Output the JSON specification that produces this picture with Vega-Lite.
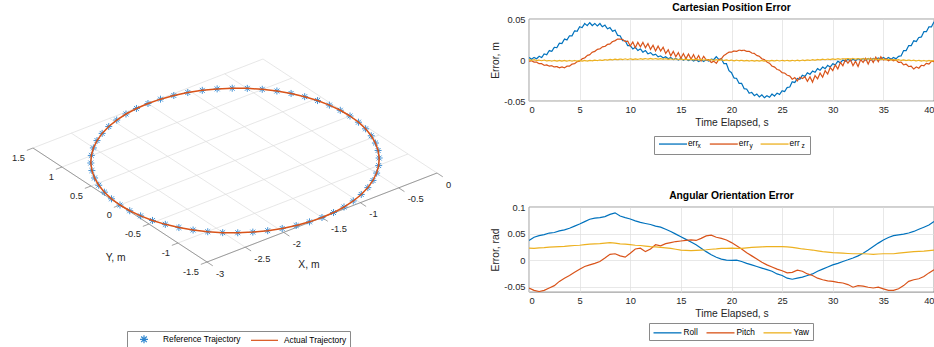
{
 "$schema": "https://vega.github.io/schema/vega-lite/v6.json",
 "background": "white",
 "padding": {"left": 0, "top": 2, "right": 0, "bottom": 0},
 "spacing": 59,
 "bounds": "flush",
 "resolve": {"scale": {"x": "independent", "y": "independent", "color": "independent", "strokeDash": "independent", "shape": "independent"}, "legend": {"color": "independent", "strokeDash": "independent", "shape": "independent"}},
 "config": {
  "font": "Liberation Sans",
  "view": {"stroke": "#3a3a3a", "strokeWidth": 0.6},
  "axis": {"labelFont": "Liberation Sans", "labelFontSize": 9.3, "labelColor": "#262626", "titleFont": "Liberation Sans", "titleFontSize": 10.3, "titleFontWeight": "normal", "titleColor": "#262626", "ticks": false, "domain": false, "gridColor": "#DEDEDE", "gridWidth": 0.7, "labelPadding": 4, "titlePadding": 3},
  "title": {"font": "Liberation Sans", "fontSize": 10.3, "fontWeight": "bold", "color": "#000000", "offset": 2},
  "legend": {"labelFont": "Liberation Sans", "labelFontSize": 8.3, "labelColor": "#000000", "padding": 4, "symbolStrokeWidth": 1.3, "columnPadding": 8, "labelOffset": 2}
 },
 "datasets": {
  "ticks": [{"a":"X","v":-3},{"a":"X","v":-2.5},{"a":"X","v":-2},{"a":"X","v":-1.5},{"a":"X","v":-1},{"a":"X","v":-0.5},{"a":"X","v":0},{"a":"Y","v":-1.5},{"a":"Y","v":-1},{"a":"Y","v":-0.5},{"a":"Y","v":0},{"a":"Y","v":0.5},{"a":"Y","v":1},{"a":"Y","v":1.5}],
  "titles": [{"t":"X, m","X":-2.2,"Y":-2.2},{"t":"Y, m","X":-3.7,"Y":-0.85}],
  "traj": [
   {"i":0,"X":0,"Y":0},{"i":1,"X":-0.0082,"Y":0.1568},{"i":2,"X":-0.0328,"Y":0.3119},{"i":3,"X":-0.0734,"Y":0.4635},{"i":4,"X":-0.1297,"Y":0.6101},{"i":5,"X":-0.201,"Y":0.75},{"i":6,"X":-0.2865,"Y":0.8817},{"i":7,"X":-0.3853,"Y":1.0037},{"i":8,"X":-0.4963,"Y":1.1147},{"i":9,"X":-0.6183,"Y":1.2135},
   {"i":10,"X":-0.75,"Y":1.299},{"i":11,"X":-0.8899,"Y":1.3703},{"i":12,"X":-1.0365,"Y":1.4266},{"i":13,"X":-1.1881,"Y":1.4672},{"i":14,"X":-1.3432,"Y":1.4918},{"i":15,"X":-1.5,"Y":1.5},{"i":16,"X":-1.6568,"Y":1.4918},{"i":17,"X":-1.8119,"Y":1.4672},{"i":18,"X":-1.9635,"Y":1.4266},{"i":19,"X":-2.1101,"Y":1.3703},
   {"i":20,"X":-2.25,"Y":1.299},{"i":21,"X":-2.3817,"Y":1.2135},{"i":22,"X":-2.5037,"Y":1.1147},{"i":23,"X":-2.6147,"Y":1.0037},{"i":24,"X":-2.7135,"Y":0.8817},{"i":25,"X":-2.799,"Y":0.75},{"i":26,"X":-2.8703,"Y":0.6101},{"i":27,"X":-2.9266,"Y":0.4635},{"i":28,"X":-2.9672,"Y":0.3119},{"i":29,"X":-2.9918,"Y":0.1568},
   {"i":30,"X":-3,"Y":0},{"i":31,"X":-2.9918,"Y":-0.1568},{"i":32,"X":-2.9672,"Y":-0.3119},{"i":33,"X":-2.9266,"Y":-0.4635},{"i":34,"X":-2.8703,"Y":-0.6101},{"i":35,"X":-2.799,"Y":-0.75},{"i":36,"X":-2.7135,"Y":-0.8817},{"i":37,"X":-2.6147,"Y":-1.0037},{"i":38,"X":-2.5037,"Y":-1.1147},{"i":39,"X":-2.3817,"Y":-1.2135},
   {"i":40,"X":-2.25,"Y":-1.299},{"i":41,"X":-2.1101,"Y":-1.3703},{"i":42,"X":-1.9635,"Y":-1.4266},{"i":43,"X":-1.8119,"Y":-1.4672},{"i":44,"X":-1.6568,"Y":-1.4918},{"i":45,"X":-1.5,"Y":-1.5},{"i":46,"X":-1.3432,"Y":-1.4918},{"i":47,"X":-1.1881,"Y":-1.4672},{"i":48,"X":-1.0365,"Y":-1.4266},{"i":49,"X":-0.8899,"Y":-1.3703},
   {"i":50,"X":-0.75,"Y":-1.299},{"i":51,"X":-0.6183,"Y":-1.2135},{"i":52,"X":-0.4963,"Y":-1.1147},{"i":53,"X":-0.3853,"Y":-1.0037},{"i":54,"X":-0.2865,"Y":-0.8817},{"i":55,"X":-0.201,"Y":-0.75},{"i":56,"X":-0.1297,"Y":-0.6101},{"i":57,"X":-0.0734,"Y":-0.4635},{"i":58,"X":-0.0328,"Y":-0.3119},{"i":59,"X":-0.0082,"Y":-0.1568},
   {"i":60,"X":0,"Y":0}
  ],
  "pos": [
   {"t":0,"x":0.003,"y":-0.0015,"z":0.0004},{"t":0.25,"x":0.001,"y":-0.001,"z":-0.0004},{"t":0.5,"x":0.003,"y":-0.0025,"z":0.0004},{"t":0.75,"x":0.0015,"y":-0.0025,"z":-0.0006},
   {"t":1,"x":0.0045,"y":-0.0045,"z":-0.0001},{"t":1.25,"x":0.003,"y":-0.0045,"z":-0.0009},{"t":1.5,"x":0.0075,"y":-0.0065,"z":-0.0001},{"t":1.75,"x":0.0065,"y":-0.006,"z":-0.0012},
   {"t":2,"x":0.0115,"y":-0.0075,"z":-0.0006},{"t":2.25,"x":0.0105,"y":-0.007,"z":-0.0014},{"t":2.5,"x":0.0155,"y":-0.0085,"z":-0.0006},{"t":2.75,"x":0.015,"y":-0.008,"z":-0.0014},
   {"t":3,"x":0.0205,"y":-0.0095,"z":-0.0006},{"t":3.25,"x":0.02,"y":-0.0085,"z":-0.0014},{"t":3.5,"x":0.0255,"y":-0.0095,"z":-0.0006},{"t":3.75,"x":0.0245,"y":-0.0075,"z":-0.0014},
   {"t":4,"x":0.0295,"y":-0.0075,"z":-0.0006},{"t":4.25,"x":0.0295,"y":-0.005,"z":-0.0014},{"t":4.5,"x":0.0355,"y":-0.0045,"z":-0.0006},{"t":4.75,"x":0.035,"y":-0.002,"z":-0.0014},
   {"t":5,"x":0.0405,"y":-0.0015,"z":-0.0006},{"t":5.25,"x":0.0395,"y":0.0015,"z":-0.0014},{"t":5.5,"x":0.0445,"y":0.0025,"z":-0.0006},{"t":5.75,"x":0.042,"y":0.0055,"z":-0.0013},
   {"t":6,"x":0.0455,"y":0.0065,"z":-0.0004},{"t":6.25,"x":0.042,"y":0.0095,"z":-0.001},{"t":6.5,"x":0.0445,"y":0.0105,"z":-0.0001},{"t":6.75,"x":0.0415,"y":0.013,"z":-0.0008},
   {"t":7,"x":0.0445,"y":0.0135,"z":0.0001},{"t":7.25,"x":0.0405,"y":0.016,"z":-0.0006},{"t":7.5,"x":0.0425,"y":0.0165,"z":0.0004},{"t":7.75,"x":0.038,"y":0.019,"z":-0.0002},
   {"t":8,"x":0.0395,"y":0.0195,"z":0.0008},{"t":8.25,"x":0.035,"y":0.0225,"z":0.0001},{"t":8.5,"x":0.0365,"y":0.0235,"z":0.001},{"t":8.75,"x":0.03,"y":0.0255,"z":0.0003},
   {"t":9,"x":0.0295,"y":0.0255,"z":0.0012},{"t":9.25,"x":0.0235,"y":0.025,"z":0.0005},{"t":9.5,"x":0.0235,"y":0.0225,"z":0.0014},{"t":9.75,"x":0.0175,"y":0.023,"z":0.0006},
   {"t":10,"x":0.0175,"y":0.017,"z":0.0014},{"t":10.25,"x":0.0135,"y":0.022,"z":0.0006},{"t":10.5,"x":0.0155,"y":0.015,"z":0.0014},{"t":10.75,"x":0.0115,"y":0.0215,"z":0.0007},
   {"t":11,"x":0.0135,"y":0.016,"z":0.0016},{"t":11.25,"x":0.0095,"y":0.0215,"z":0.0009},{"t":11.5,"x":0.0115,"y":0.015,"z":0.0017},{"t":11.75,"x":0.0075,"y":0.02,"z":0.001},
   {"t":12,"x":0.009,"y":0.013,"z":0.0019},{"t":12.25,"x":0.006,"y":0.018,"z":0.001},{"t":12.5,"x":0.007,"y":0.011,"z":0.0018},{"t":12.75,"x":0.004,"y":0.017,"z":0.001},
   {"t":13,"x":0.005,"y":0.011,"z":0.0017},{"t":13.25,"x":0.0025,"y":0.0155,"z":0.0009},{"t":13.5,"x":0.004,"y":0.008,"z":0.0016},{"t":13.75,"x":0.0015,"y":0.0125,"z":0.0007},
   {"t":14,"x":0.003,"y":0.005,"z":0.0014},{"t":14.25,"x":0.0005,"y":0.0105,"z":0.0006},{"t":14.5,"x":0.002,"y":0.004,"z":0.0014},{"t":14.75,"x":0,"y":0.009,"z":0.0005},
   {"t":15,"x":0.002,"y":0.002,"z":0.0012},{"t":15.25,"x":-0.0003,"y":0.0078,"z":0.0003},{"t":15.5,"x":0.0015,"y":0.0015,"z":0.001},{"t":15.75,"x":-0.0008,"y":0.0073,"z":0.0002},
   {"t":16,"x":0.001,"y":0.001,"z":0.0009},{"t":16.25,"x":-0.0013,"y":0.0065,"z":0.0001},{"t":16.5,"x":0.0005,"y":0,"z":0.0008},{"t":16.75,"x":-0.0018,"y":0.0055,"z":0},
   {"t":17,"x":0,"y":-0.001,"z":0.0007},{"t":17.25,"x":-0.0018,"y":0.0045,"z":-0.0002},{"t":17.5,"x":0.0005,"y":0,"z":0.0006},{"t":17.75,"x":-0.0013,"y":0.0005,"z":-0.0003},
   {"t":18,"x":0.001,"y":-0.003,"z":0.0005},{"t":18.25,"x":0.0005,"y":-0.0015,"z":-0.0004},{"t":18.5,"x":0.004,"y":-0.004,"z":0.0004},{"t":18.75,"x":0.0005,"y":0.0005,"z":-0.0005},
   {"t":19,"x":0.0015,"y":0.0015,"z":0.0002},{"t":19.25,"x":-0.0045,"y":0.0055,"z":-0.0007},{"t":19.5,"x":-0.0045,"y":0.0075,"z":0.0001},{"t":19.75,"x":-0.013,"y":0.0095,"z":-0.0008},
   {"t":20,"x":-0.0155,"y":0.0095,"z":-0.0001},{"t":20.25,"x":-0.022,"y":0.011,"z":-0.001},{"t":20.5,"x":-0.0225,"y":0.0105,"z":-0.0002},{"t":20.75,"x":-0.0285,"y":0.012,"z":-0.001},
   {"t":21,"x":-0.0285,"y":0.0115,"z":-0.0003},{"t":21.25,"x":-0.035,"y":0.012,"z":-0.0012},{"t":21.5,"x":-0.0355,"y":0.0105,"z":-0.0004},{"t":21.75,"x":-0.0405,"y":0.0105,"z":-0.0013},
   {"t":22,"x":-0.0395,"y":0.0085,"z":-0.0006},{"t":22.25,"x":-0.0435,"y":0.008,"z":-0.0014},{"t":22.5,"x":-0.0415,"y":0.0055,"z":-0.0006},{"t":22.75,"x":-0.045,"y":0.0045,"z":-0.0014},
   {"t":23,"x":-0.0425,"y":0.0015,"z":-0.0006},{"t":23.25,"x":-0.046,"y":0.0005,"z":-0.0014},{"t":23.5,"x":-0.0435,"y":-0.0025,"z":-0.0006},{"t":23.75,"x":-0.0455,"y":-0.004,"z":-0.0013},
   {"t":24,"x":-0.0415,"y":-0.0075,"z":-0.0004},{"t":24.25,"x":-0.044,"y":-0.0085,"z":-0.0012},{"t":24.5,"x":-0.0405,"y":-0.0115,"z":-0.0004},{"t":24.75,"x":-0.042,"y":-0.0125,"z":-0.0012},
   {"t":25,"x":-0.0375,"y":-0.0155,"z":-0.0004},{"t":25.25,"x":-0.0385,"y":-0.016,"z":-0.0012},{"t":25.5,"x":-0.0335,"y":-0.0185,"z":-0.0004},{"t":25.75,"x":-0.033,"y":-0.0195,"z":-0.0012},
   {"t":26,"x":-0.0265,"y":-0.0235,"z":-0.0004},{"t":26.25,"x":-0.0275,"y":-0.0215,"z":-0.0011},{"t":26.5,"x":-0.0225,"y":-0.0255,"z":-0.0002},{"t":26.75,"x":-0.0235,"y":-0.021,"z":-0.001},
   {"t":27,"x":-0.0185,"y":-0.0225,"z":-0.0001},{"t":27.25,"x":-0.02,"y":-0.0205,"z":-0.0008},{"t":27.5,"x":-0.0155,"y":-0.026,"z":0.0001},{"t":27.75,"x":-0.0175,"y":-0.0205,"z":-0.0006},
   {"t":28,"x":-0.0135,"y":-0.027,"z":0.0004},{"t":28.25,"x":-0.015,"y":-0.019,"z":-0.0003},{"t":28.5,"x":-0.0105,"y":-0.023,"z":0.0007},{"t":28.75,"x":-0.0125,"y":-0.016,"z":0.0001},
   {"t":29,"x":-0.0085,"y":-0.021,"z":0.001},{"t":29.25,"x":-0.0105,"y":-0.013,"z":0.0003},{"t":29.5,"x":-0.0065,"y":-0.017,"z":0.0012},{"t":29.75,"x":-0.0085,"y":-0.009,"z":0.0005},
   {"t":30,"x":-0.0045,"y":-0.013,"z":0.0014},{"t":30.25,"x":-0.006,"y":-0.006,"z":0.0007},{"t":30.5,"x":-0.0015,"y":-0.011,"z":0.0016},{"t":30.75,"x":-0.0035,"y":-0.003,"z":0.0009},
   {"t":31,"x":0,"y":-0.007,"z":0.0017},{"t":31.25,"x":-0.0015,"y":0.0005,"z":0.001},{"t":31.5,"x":0.001,"y":-0.004,"z":0.0018},{"t":31.75,"x":-0.001,"y":0.0005,"z":0.001},
   {"t":32,"x":0.001,"y":-0.007,"z":0.0019},{"t":32.25,"x":-0.0008,"y":-0.0015,"z":0.001},{"t":32.5,"x":0.0015,"y":-0.008,"z":0.0018},{"t":32.75,"x":-0.0003,"y":0.0005,"z":0.001},
   {"t":33,"x":0.002,"y":-0.003,"z":0.0017},{"t":33.25,"x":0,"y":0.002,"z":0.0009},{"t":33.5,"x":0.002,"y":-0.005,"z":0.0016},{"t":33.75,"x":0,"y":0.002,"z":0.0007},
   {"t":34,"x":0.002,"y":-0.003,"z":0.0014},{"t":34.25,"x":0.0003,"y":0.0035,"z":0.0005},{"t":34.5,"x":0.0025,"y":-0.002,"z":0.0012},{"t":34.75,"x":0.0008,"y":0.004,"z":0.0003},
   {"t":35,"x":0.003,"y":0,"z":0.001},{"t":35.25,"x":0.001,"y":0.0015,"z":0.0001},{"t":35.5,"x":0.003,"y":-0.001,"z":0.0008},{"t":35.75,"x":0.001,"y":0.001,"z":-0.0001},
   {"t":36,"x":0.003,"y":-0.001,"z":0.0006},{"t":36.25,"x":0.0015,"y":0,"z":-0.0003},{"t":36.5,"x":0.0045,"y":-0.003,"z":0.0004},{"t":36.75,"x":0.005,"y":-0.0025,"z":-0.0005},
   {"t":37,"x":0.0115,"y":-0.006,"z":0.0002},{"t":37.25,"x":0.0115,"y":-0.005,"z":-0.0007},{"t":37.5,"x":0.0175,"y":-0.008,"z":0},{"t":37.75,"x":0.0175,"y":-0.0075,"z":-0.0009},
   {"t":38,"x":0.0235,"y":-0.011,"z":-0.0002},{"t":38.25,"x":0.0225,"y":-0.0085,"z":-0.0011},{"t":38.5,"x":0.0275,"y":-0.01,"z":-0.0004},{"t":38.75,"x":0.028,"y":-0.0065,"z":-0.0013},
   {"t":39,"x":0.0345,"y":-0.007,"z":-0.0006},{"t":39.25,"x":0.0345,"y":-0.004,"z":-0.0014},{"t":39.5,"x":0.0405,"y":-0.005,"z":-0.0006},{"t":39.75,"x":0.0405,"y":-0.0015,"z":-0.0014},
   {"t":40,"x":0.0465,"y":-0.002,"z":-0.0006}
  ],
  "ang": [
   {"t":0,"Roll":0.037,"Pitch":-0.0525,"Yaw":0.0225},{"t":0.5,"Roll":0.043,"Pitch":-0.057,"Yaw":0.022},{"t":1,"Roll":0.046,"Pitch":-0.059,"Yaw":0.023},{"t":1.5,"Roll":0.048,"Pitch":-0.057,"Yaw":0.0235},
   {"t":2,"Roll":0.051,"Pitch":-0.0525,"Yaw":0.0245},{"t":2.5,"Roll":0.052,"Pitch":-0.048,"Yaw":0.025},{"t":3,"Roll":0.055,"Pitch":-0.04,"Yaw":0.0255},{"t":3.5,"Roll":0.057,"Pitch":-0.034,"Yaw":0.026},
   {"t":4,"Roll":0.06,"Pitch":-0.029,"Yaw":0.027},{"t":4.5,"Roll":0.064,"Pitch":-0.023,"Yaw":0.0275},{"t":5,"Roll":0.068,"Pitch":-0.017,"Yaw":0.028},{"t":5.5,"Roll":0.0725,"Pitch":-0.012,"Yaw":0.029},
   {"t":6,"Roll":0.077,"Pitch":-0.009,"Yaw":0.03},{"t":6.5,"Roll":0.079,"Pitch":-0.006,"Yaw":0.0305},{"t":7,"Roll":0.08,"Pitch":-0.0025,"Yaw":0.031},{"t":7.5,"Roll":0.082,"Pitch":0.004,"Yaw":0.032},
   {"t":8,"Roll":0.086,"Pitch":0.011,"Yaw":0.033},{"t":8.5,"Roll":0.089,"Pitch":0.012,"Yaw":0.032},{"t":9,"Roll":0.083,"Pitch":0.008,"Yaw":0.0305},{"t":9.5,"Roll":0.08,"Pitch":0.0056,"Yaw":0.03},
   {"t":10,"Roll":0.0775,"Pitch":0.013,"Yaw":0.029},{"t":10.5,"Roll":0.074,"Pitch":0.021,"Yaw":0.028},{"t":11,"Roll":0.071,"Pitch":0.0225,"Yaw":0.0275},{"t":11.5,"Roll":0.069,"Pitch":0.016,"Yaw":0.0265},
   {"t":12,"Roll":0.067,"Pitch":0.021,"Yaw":0.0255},{"t":12.5,"Roll":0.064,"Pitch":0.029,"Yaw":0.025},{"t":13,"Roll":0.062,"Pitch":0.027,"Yaw":0.024},{"t":13.5,"Roll":0.058,"Pitch":0.031,"Yaw":0.023},
   {"t":14,"Roll":0.054,"Pitch":0.033,"Yaw":0.022},{"t":14.5,"Roll":0.049,"Pitch":0.035,"Yaw":0.0205},{"t":15,"Roll":0.044,"Pitch":0.036,"Yaw":0.019},{"t":15.5,"Roll":0.039,"Pitch":0.037,"Yaw":0.0185},
   {"t":16,"Roll":0.034,"Pitch":0.038,"Yaw":0.018},{"t":16.5,"Roll":0.029,"Pitch":0.037,"Yaw":0.0185},{"t":17,"Roll":0.0225,"Pitch":0.041,"Yaw":0.019},{"t":17.5,"Roll":0.016,"Pitch":0.0455,"Yaw":0.0195},
   {"t":18,"Roll":0.01,"Pitch":0.047,"Yaw":0.0205},{"t":18.5,"Roll":0.0055,"Pitch":0.043,"Yaw":0.021},{"t":19,"Roll":0.002,"Pitch":0.041,"Yaw":0.022},{"t":19.5,"Roll":0,"Pitch":0.038,"Yaw":0.022},
   {"t":20,"Roll":-0.0005,"Pitch":0.033,"Yaw":0.0225},{"t":20.5,"Roll":0,"Pitch":0.027,"Yaw":0.022},{"t":21,"Roll":-0.0025,"Pitch":0.021,"Yaw":0.022},{"t":21.5,"Roll":-0.006,"Pitch":0.014,"Yaw":0.023},
   {"t":22,"Roll":-0.009,"Pitch":0.008,"Yaw":0.024},{"t":22.5,"Roll":-0.012,"Pitch":0.002,"Yaw":0.0245},{"t":23,"Roll":-0.015,"Pitch":-0.004,"Yaw":0.025},{"t":23.5,"Roll":-0.018,"Pitch":-0.009,"Yaw":0.0255},
   {"t":24,"Roll":-0.021,"Pitch":-0.013,"Yaw":0.0255},{"t":24.5,"Roll":-0.026,"Pitch":-0.017,"Yaw":0.0255},{"t":25,"Roll":-0.029,"Pitch":-0.02,"Yaw":0.0255},{"t":25.5,"Roll":-0.034,"Pitch":-0.024,"Yaw":0.025},
   {"t":26,"Roll":-0.036,"Pitch":-0.023,"Yaw":0.024},{"t":26.5,"Roll":-0.034,"Pitch":-0.019,"Yaw":0.0225},{"t":27,"Roll":-0.032,"Pitch":-0.021,"Yaw":0.021},{"t":27.5,"Roll":-0.029,"Pitch":-0.026,"Yaw":0.02},
   {"t":28,"Roll":-0.026,"Pitch":-0.029,"Yaw":0.019},{"t":28.5,"Roll":-0.021,"Pitch":-0.034,"Yaw":0.0175},{"t":29,"Roll":-0.017,"Pitch":-0.037,"Yaw":0.016},{"t":29.5,"Roll":-0.013,"Pitch":-0.039,"Yaw":0.015},
   {"t":30,"Roll":-0.009,"Pitch":-0.04,"Yaw":0.014},{"t":30.5,"Roll":-0.006,"Pitch":-0.042,"Yaw":0.0135},{"t":31,"Roll":-0.0025,"Pitch":-0.043,"Yaw":0.013},{"t":31.5,"Roll":0.0006,"Pitch":-0.046,"Yaw":0.0125},
   {"t":32,"Roll":0.004,"Pitch":-0.051,"Yaw":0.012},{"t":32.5,"Roll":0.008,"Pitch":-0.048,"Yaw":0.012},{"t":33,"Roll":0.013,"Pitch":-0.049,"Yaw":0.012},{"t":33.5,"Roll":0.019,"Pitch":-0.051,"Yaw":0.0115},
   {"t":34,"Roll":0.0255,"Pitch":-0.0525,"Yaw":0.011},{"t":34.5,"Roll":0.032,"Pitch":-0.051,"Yaw":0.0115},{"t":35,"Roll":0.038,"Pitch":-0.054,"Yaw":0.012},{"t":35.5,"Roll":0.0425,"Pitch":-0.057,"Yaw":0.012},
   {"t":36,"Roll":0.046,"Pitch":-0.057,"Yaw":0.012},{"t":36.5,"Roll":0.0475,"Pitch":-0.054,"Yaw":0.013},{"t":37,"Roll":0.049,"Pitch":-0.048,"Yaw":0.014},{"t":37.5,"Roll":0.051,"Pitch":-0.04,"Yaw":0.015},
   {"t":38,"Roll":0.054,"Pitch":-0.037,"Yaw":0.016},{"t":38.5,"Roll":0.058,"Pitch":-0.035,"Yaw":0.0165},{"t":39,"Roll":0.062,"Pitch":-0.031,"Yaw":0.017},{"t":39.5,"Roll":0.066,"Pitch":-0.024,"Yaw":0.018},
   {"t":40,"Roll":0.0725,"Pitch":-0.018,"Yaw":0.019}
  ]
 },
 "hconcat": [
  {
   "width": 470, "height": 300,
   "view": {"stroke": null},
   "encoding": {
    "x": {"field": "u1", "type": "quantitative", "scale": {"domain": [-3.5, 1.2], "nice": false, "zero": false}, "axis": null},
    "y": {"field": "w1", "type": "quantitative", "scale": {"domain": [-2.03, 0.97], "nice": false, "zero": false}, "axis": null}
   },
   "layer": [
    {
     "data": {"name": "ticks"},
     "transform": [
      {"calculate": "datum.a=='X'?datum.v:-3", "as": "X1"},
      {"calculate": "datum.a=='X'?-1.5:datum.v", "as": "Y1"},
      {"calculate": "datum.a=='X'?datum.v:0", "as": "X2"},
      {"calculate": "datum.a=='X'?1.5:datum.v", "as": "Y2"},
      {"calculate": "datum.a=='X'?datum.v:-3.08", "as": "X3"},
      {"calculate": "datum.a=='X'?-1.6:datum.v", "as": "Y3"},
      {"calculate": "0.7667*datum.X1-0.58*datum.Y1", "as": "u1"},
      {"calculate": "0.2967*datum.X1+0.38*datum.Y1", "as": "w1"},
      {"calculate": "0.7667*datum.X2-0.58*datum.Y2", "as": "u2"},
      {"calculate": "0.2967*datum.X2+0.38*datum.Y2", "as": "w2"},
      {"calculate": "0.7667*datum.X3-0.58*datum.Y3", "as": "u3"},
      {"calculate": "0.2967*datum.X3+0.38*datum.Y3", "as": "w3"}
     ],
     "layer": [
      {"mark": {"type": "rule", "color": "#DCDCDC", "strokeWidth": 0.7},
       "encoding": {"x2": {"field": "u2"}, "y2": {"field": "w2"}}},
      {"transform": [{"filter": "(datum.a=='X'&&datum.v==-3)||(datum.a=='Y'&&datum.v==-1.5)"}],
       "mark": {"type": "rule", "color": "#7a7a7a", "strokeWidth": 0.7},
       "encoding": {"x2": {"field": "u2"}, "y2": {"field": "w2"}}},
      {"mark": {"type": "rule", "color": "#7a7a7a", "strokeWidth": 0.7},
       "encoding": {"x2": {"field": "u3"}, "y2": {"field": "w3"}}},
      {"transform": [{"filter": "datum.a=='X'"}],
       "mark": {"type": "text", "align": "left", "baseline": "middle", "dx": 9, "dy": 11.5, "fontSize": 9.3, "color": "#262626"},
       "encoding": {"text": {"field": "v", "type": "nominal"}}},
      {"transform": [{"filter": "datum.a=='Y'"}],
       "mark": {"type": "text", "align": "right", "baseline": "middle", "dx": -8, "dy": 10, "fontSize": 9.3, "color": "#262626"},
       "encoding": {"text": {"field": "v", "type": "nominal"}}}
     ]
    },
    {
     "data": {"name": "titles"},
     "transform": [
      {"calculate": "0.7667*datum.X-0.58*datum.Y", "as": "u1"},
      {"calculate": "0.2967*datum.X+0.38*datum.Y", "as": "w1"}
     ],
     "mark": {"type": "text", "align": "center", "baseline": "middle", "fontSize": 10.3, "color": "#262626"},
     "encoding": {"text": {"field": "t", "type": "nominal"}}
    },
    {
     "data": {"name": "traj"},
     "transform": [
      {"calculate": "0.7667*datum.X-0.58*datum.Y", "as": "u1"},
      {"calculate": "0.2967*datum.X+0.38*datum.Y", "as": "w1"}
     ],
     "layer": [
      {"transform": [{"filter": "datum.i<60"}],
       "mark": {"type": "point", "filled": false, "size": 49, "strokeWidth": 0.9, "opacity": 1},
       "encoding": {
        "color": {"datum": "Reference Trajectory", "type": "nominal",
         "scale": {"domain": ["Reference Trajectory", "Actual Trajectory"], "range": ["#2F86CF", "#D95319"]},
         "legend": {"orient": "none", "legendX": 127, "legendY": 312, "direction": "horizontal", "title": null,
          "strokeColor": "#8a8a8a", "fillColor": "white",
          "padding": 3, "symbolSize": 64, "symbolStrokeWidth": 1.2, "symbolOffset": 9, "labelOffset": 14, "columnPadding": 7, "labelFontSize": 8.35}},
        "shape": {"datum": "Reference Trajectory", "type": "nominal",
         "scale": {"domain": ["Reference Trajectory", "Actual Trajectory"], "range": ["M-1,0L1,0M0,-1L0,1M-0.7,-0.7L0.7,0.7M-0.7,0.7L0.7,-0.7", "M-3.5,0L3.25,0"]},
         "legend": {"orient": "none", "legendX": 127, "legendY": 312, "direction": "horizontal", "title": null,
          "strokeColor": "#8a8a8a", "fillColor": "white",
          "padding": 3, "symbolSize": 64, "symbolStrokeWidth": 1.2, "symbolOffset": 9, "labelOffset": 14, "columnPadding": 7, "labelFontSize": 8.35}}
       }},
      {"mark": {"type": "line", "strokeWidth": 1.5},
       "encoding": {
        "order": {"field": "i", "type": "quantitative"},
        "color": {"datum": "Actual Trajectory", "type": "nominal",
         "scale": {"domain": ["Reference Trajectory", "Actual Trajectory"], "range": ["#2F86CF", "#D95319"]}}
       }}
     ]
    }
   ]
  },
  {
   "bounds": "flush",
   "spacing": 106,
   "resolve": {"scale": {"x": "independent", "y": "independent", "color": "independent", "strokeDash": "independent"}, "legend": {"color": "independent", "strokeDash": "independent"}},
   "vconcat": [
    {
     "width": 405, "height": 82,
     "title": {"text": "Cartesian Position Error"},
     "data": {"name": "pos"},
     "transform": [{"fold": ["x", "y", "z"], "as": ["s", "v"]}, {"calculate": "'k'+datum.s", "as": "k"}],
     "mark": {"type": "line", "strokeWidth": 1.2, "clip": true},
     "encoding": {
      "x": {"field": "t", "type": "quantitative", "scale": {"domain": [0, 40], "nice": false}, "axis": {"values": [0, 5, 10, 15, 20, 25, 30, 35, 40], "title": "Time Elapsed, s"}},
      "y": {"field": "v", "type": "quantitative", "scale": {"domain": [-0.05, 0.05], "nice": false, "zero": false}, "axis": {"values": [-0.05, 0, 0.05], "title": "Error, m", "format": "~g", "labelExpr": "replace(datum.label,'\u2212','-')"}},
      "color": {"field": "s", "type": "nominal", "scale": {"domain": ["x", "y", "z"], "range": ["#0072BD", "#D95319", "#EDB120"]},
       "legend": {"orient": "none", "legendX": 129, "legendY": 118.7, "direction": "horizontal", "title": null,
        "symbolType": "M-1,0L4.6,0", "symbolSize": 100, "padding": 0,
        "labelOffset": 18, "columnPadding": 7.8, "labelExpr": "'err'"}},
      "strokeDash": {"field": "k", "type": "nominal", "scale": {"domain": ["kx", "ky", "kz"], "range": [[1, 0], [1, 0], [1, 0]]},
       "legend": {"orient": "none", "legendX": 125, "legendY": 117, "direction": "horizontal", "title": null,
        "strokeColor": "#8a8a8a",
        "symbolType": "circle", "symbolSize": 1, "symbolOpacity": 0, "padding": 4.5,
        "labelFontSize": 6.5, "labelOffset": 32.5, "columnPadding": 9, "labelExpr": "substring(datum.label,1)",
        "encode": {"labels": {"update": {"dy": {"value": 2}}}}}}
     }
    },
    {
     "width": 405, "height": 85,
     "title": {"text": "Angular Orientation Error"},
     "data": {"name": "ang"},
     "transform": [{"fold": ["Roll", "Pitch", "Yaw"], "as": ["s", "v"]}],
     "mark": {"type": "line", "strokeWidth": 1.2, "clip": true},
     "encoding": {
      "x": {"field": "t", "type": "quantitative", "scale": {"domain": [0, 40], "nice": false}, "axis": {"values": [0, 5, 10, 15, 20, 25, 30, 35, 40], "title": "Time Elapsed, s"}},
      "y": {"field": "v", "type": "quantitative", "scale": {"domain": [-0.06, 0.1], "nice": false, "zero": false}, "axis": {"values": [-0.05, 0, 0.05, 0.1], "title": "Error, rad", "format": "~g", "labelExpr": "replace(datum.label,'\u2212','-')"}},
      "color": {"field": "s", "type": "nominal", "scale": {"domain": ["Roll", "Pitch", "Yaw"], "range": ["#0072BD", "#D95319", "#EDB120"]},
       "legend": {"orient": "none", "legendX": 120, "legendY": 116, "direction": "horizontal", "title": null,
        "strokeColor": "#8a8a8a", "fillColor": "white",
        "symbolType": "M-1,0L4.6,0", "symbolSize": 100, "padding": 3.5, "labelOffset": 19, "columnPadding": 5}}
     }
    }
   ]
  }
 ]
}
